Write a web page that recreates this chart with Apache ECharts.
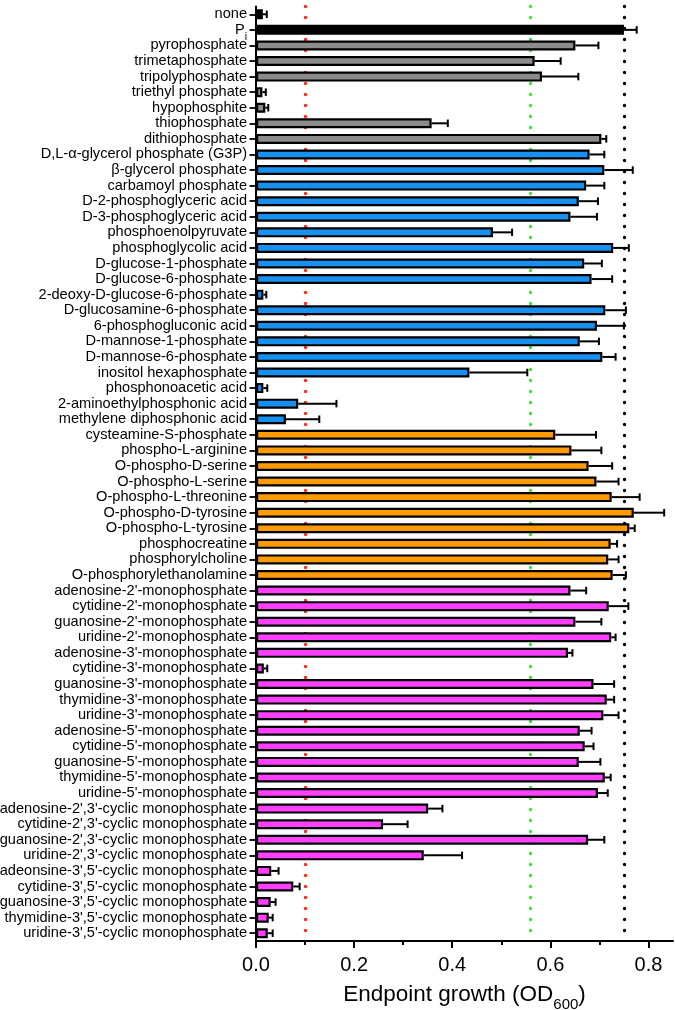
<!DOCTYPE html>
<html>
<head>
<meta charset="utf-8">
<script src="https://cdn.jsdelivr.net/npm/echarts@6/dist/echarts.min.js"></script>
<style>
html,body{margin:0;padding:0;background:#fff;}
#chart{width:675px;height:1010px;}
</style>
</head>
<body>
<div id="chart"></div>
<script>
const categories = [
  "none", "Pi", "pyrophosphate", "trimetaphosphate", "tripolyphosphate", "triethyl phosphate",
  "hypophosphite", "thiophosphate", "dithiophosphate", "D,L-\u03b1-glycerol phosphate (G3P)",
  "\u03b2-glycerol phosphate", "carbamoyl phosphate", "D-2-phosphoglyceric acid", "D-3-phosphoglyceric acid",
  "phosphoenolpyruvate", "phosphoglycolic acid", "D-glucose-1-phosphate", "D-glucose-6-phosphate",
  "2-deoxy-D-glucose-6-phosphate", "D-glucosamine-6-phosphate", "6-phosphogluconic acid",
  "D-mannose-1-phosphate", "D-mannose-6-phosphate", "inositol hexaphosphate", "phosphonoacetic acid",
  "2-aminoethylphosphonic acid", "methylene diphosphonic acid", "cysteamine-S-phosphate",
  "phospho-L-arginine", "O-phospho-D-serine", "O-phospho-L-serine", "O-phospho-L-threonine",
  "O-phospho-D-tyrosine", "O-phospho-L-tyrosine", "phosphocreatine", "phosphorylcholine",
  "O-phosphorylethanolamine", "adenosine-2'-monophosphate", "cytidine-2'-monophosphate",
  "guanosine-2'-monophosphate", "uridine-2'-monophosphate", "adenosine-3'-monophosphate",
  "cytidine-3'-monophosphate", "guanosine-3'-monophosphate", "thymidine-3'-monophosphate",
  "uridine-3'-monophosphate", "adenosine-5'-monophosphate", "cytidine-5'-monophosphate",
  "guanosine-5'-monophosphate", "thymidine-5'-monophosphate", "uridine-5'-monophosphate",
  "adenosine-2',3'-cyclic monophosphate", "cytidine-2',3'-cyclic monophosphate",
  "guanosine-2',3'-cyclic monophosphate", "uridine-2',3'-cyclic monophosphate",
  "adeonsine-3',5'-cyclic monophosphate", "cytidine-3',5'-cyclic monophosphate",
  "guanosine-3',5'-cyclic monophosphate", "thymidine-3',5'-cyclic monophosphate",
  "uridine-3',5'-cyclic monophosphate"
];

const growth = [
  0.014, 0.750, 0.651, 0.568, 0.583, 0.013, 0.019, 0.358, 0.704, 0.680,
  0.710, 0.673, 0.658, 0.641, 0.483, 0.728, 0.669, 0.684, 0.015, 0.712,
  0.695, 0.660, 0.706, 0.435, 0.015, 0.086, 0.061, 0.610, 0.643, 0.678,
  0.694, 0.725, 0.770, 0.761, 0.723, 0.718, 0.727, 0.641, 0.719, 0.651,
  0.724, 0.636, 0.016, 0.688, 0.715, 0.708, 0.660, 0.670, 0.658, 0.711,
  0.697, 0.351, 0.259, 0.677, 0.342, 0.031, 0.076, 0.030, 0.026, 0.024
];

const growthSD = [
  0.008, 0.026, 0.047, 0.053, 0.074, 0.007, 0.006, 0.033, 0.010, 0.030,
  0.058, 0.037, 0.039, 0.054, 0.039, 0.032, 0.036, 0.042, 0.006, 0.042,
  0.055, 0.039, 0.027, 0.118, 0.008, 0.078, 0.068, 0.083, 0.061, 0.048,
  0.045, 0.057, 0.062, 0.011, 0.013, 0.021, 0.027, 0.032, 0.040, 0.053,
  0.009, 0.009, 0.007, 0.042, 0.015, 0.031, 0.024, 0.018, 0.044, 0.012,
  0.020, 0.029, 0.050, 0.033, 0.078, 0.015, 0.013, 0.010, 0.008, 0.010
];

// consecutive groups of categories (top to bottom)
const groupNames = ["control", "inorganic", "organic", "amino", "nucleotide"];
const groupCounts = [2, 7, 18, 10, 23];

const refLineValues = [0.1, 0.561, 0.75];
const xTickLabels = [0, 0.2, 0.4, 0.6, 0.8];
const xMinorTicks = [0.1, 0.3, 0.5, 0.7];

const groupColor = {
  control: "#000000",
  inorganic: "#8c8c8c",
  organic: "#1790f0",
  amino: "#ff9a00",
  nucleotide: "#ff40ff"
};
const refColors = ["#ff2a1a", "#2aee2a", "#000000"];

const catGroup = [];
groupNames.forEach((g, i) => { for (let k = 0; k < groupCounts[i]; k++) catGroup.push(g); });

const FONT = "'Liberation Sans', Arial, Helvetica, sans-serif";

const chart = echarts.init(document.getElementById("chart"), null, { renderer: "canvas" });

const option = {
  backgroundColor: "#ffffff",
  animation: false,
  grid: { left: 256, right: 2, top: 6.5, bottom: 69, containLabel: false, outerBoundsMode: "none" },
  xAxis: [
    {
      type: "value", min: 0, max: 0.85, position: "bottom",
      splitLine: { show: false },
      axisLine: { show: true, lineStyle: { color: "#000", width: 2 } },
      axisTick: { show: true, length: 7, lineStyle: { color: "#000", width: 2 }, customValues: xTickLabels },
      axisLabel: {
        customValues: xTickLabels, margin: 14, color: "#000",
        fontFamily: FONT, fontSize: 20,
        formatter: v => Number(v).toFixed(1)
      },
      name: "Endpoint growth (OD{sub|600})",
      nameLocation: "middle",
      nameGap: 42,
      nameTextStyle: {
        color: "#000", fontFamily: FONT, fontSize: 22.5,
        rich: { sub: { fontFamily: FONT, fontSize: 15, color: "#000", verticalAlign: "bottom", lineHeight: 15, padding: [0, 0, -6, 0] } }
      }
    },
    {
      type: "value", min: 0, max: 0.85, position: "bottom",
      splitLine: { show: false },
      axisLine: { show: false },
      axisTick: { show: true, length: 4, lineStyle: { color: "#000", width: 2 }, customValues: xMinorTicks },
      axisLabel: { show: false }
    }
  ],
  yAxis: {
    type: "category",
    inverse: true,
    data: categories,
    axisLine: { show: true, lineStyle: { color: "#000", width: 2 } },
    axisTick: { show: true, alignWithLabel: true, length: 6.5, lineStyle: { color: "#000", width: 1.8 } },
    axisLabel: {
      interval: 0, margin: 9, color: "#000", fontFamily: FONT, fontSize: 14.6,
      formatter: v => v === "Pi" ? "P{sub|i}" : v,
      rich: { sub: { fontFamily: FONT, fontSize: 10.5, color: "#000", verticalAlign: "bottom", lineHeight: 10, padding: [0, 0, -5, 0] } }
    },
    splitLine: { show: false }
  },
  series: [
    {
      type: "line",
      data: [],
      silent: true,
      z: 1,
      markLine: {
        silent: true,
        z: 1,
        symbol: ["none", "none"],
        label: { show: false },
        data: refLineValues.map((v, i) => ({
          xAxis: v,
          lineStyle: { color: refColors[i], width: 3.4, type: [0.1, 10.9], cap: "round" }
        }))
      }
    },
    {
      type: "bar",
      z: 2,
      barWidth: 10,
      data: growth.map((v, i) => ({
        value: v,
        itemStyle: { color: groupColor[catGroup[i]], borderColor: "#000", borderWidth: 2.2 }
      }))
    },
    {
      type: "custom",
      z: 3,
      encode: { x: [0, 2], y: 1 },
      data: growth.map((v, i) => [v, i, v + growthSD[i]]),
      renderItem: function (params, api) {
        const s = api.coord([api.value(0), api.value(1)]);
        const e = api.coord([api.value(2), api.value(1)]);
        const h = 7.5;
        const st = { stroke: "#000", lineWidth: 2 };
        return {
          type: "group",
          children: [
            { type: "line", shape: { x1: s[0], y1: s[1], x2: e[0], y2: e[1] }, style: st },
            { type: "line", shape: { x1: e[0], y1: e[1] - h / 2, x2: e[0], y2: e[1] + h / 2 }, style: st }
          ]
        };
      }
    }
  ]
};
chart.setOption(option);
</script>
</body>
</html>
